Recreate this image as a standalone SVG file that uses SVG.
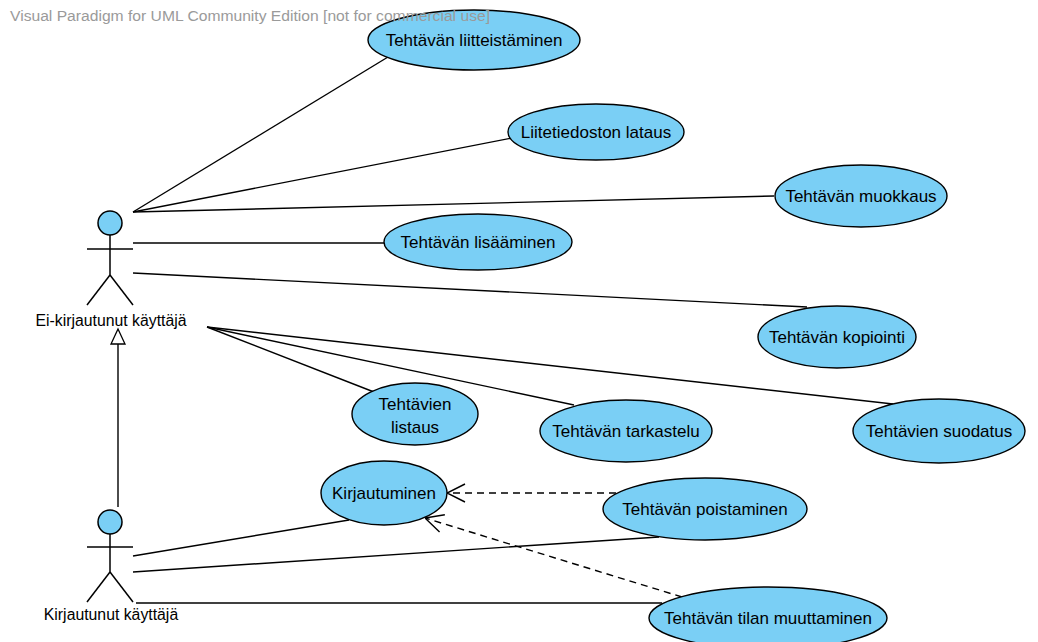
<svg xmlns="http://www.w3.org/2000/svg" width="1038" height="642" viewBox="0 0 1038 642">
  <style>
    .uc { fill: #7acff5; stroke: #000; stroke-width: 1.4; }
    .lbl { font-family: "Liberation Sans", Arial, sans-serif; font-size: 17px; fill: #000; text-anchor: middle; }
    .alb { font-family: "Liberation Sans", Arial, sans-serif; font-size: 15.8px; fill: #000; text-anchor: middle; }
    .act { fill: none; stroke: #000; stroke-width: 1.5; }
    .head { fill: #7acff5; stroke: #000; stroke-width: 1.5; }
    .assoc { stroke: #000; stroke-width: 1.4; fill: none; }
    .dep { stroke: #000; stroke-width: 1.4; fill: none; stroke-dasharray: 7 5; }
    .wm { font-family: "Liberation Sans", Arial, sans-serif; font-size: 15.5px; fill: #9a9a9a; }
  </style>
  <defs>
    <marker id="open" viewBox="0 0 20 20" refX="20" refY="10" markerWidth="20" markerHeight="20" markerUnits="userSpaceOnUse" orient="auto">
      <path d="M2 1 L20 10 L2 19" fill="none" stroke="#000" stroke-width="1.4"/>
    </marker>
  </defs>
  <rect width="1038" height="642" fill="#fff"/>

  <g id="connectors">
    <line class="assoc" x1="133" y1="212" x2="388" y2="57"/>
    <line class="assoc" x1="133" y1="212" x2="512" y2="138"/>
    <line class="assoc" x1="133" y1="212" x2="774" y2="196"/>
    <line class="assoc" x1="133" y1="243" x2="384" y2="243"/>
    <line class="assoc" x1="133" y1="273" x2="807" y2="307"/>
    <line class="assoc" x1="207" y1="327" x2="374" y2="392"/>
    <line class="assoc" x1="207" y1="327" x2="574" y2="405"/>
    <line class="assoc" x1="207" y1="327" x2="893" y2="404"/>
    <line class="assoc" x1="133" y1="556" x2="349" y2="520"/>
    <line class="assoc" x1="133" y1="572" x2="659" y2="537"/>
    <line class="assoc" x1="136" y1="603" x2="662" y2="603"/>
    <!-- generalization -->
    <line class="assoc" x1="118" y1="507" x2="118" y2="344"/>
    <polygon points="118,329 111,344 125,344" fill="#fff" stroke="#000" stroke-width="1.3"/>
    <!-- include dependencies -->
    <line class="dep" x1="616" y1="493" x2="447" y2="493" marker-end="url(#open)"/>
    <line class="dep" x1="682" y1="597" x2="425" y2="518" marker-end="url(#open)"/>
  </g>

  <g id="uc-liitteistaminen">
    <ellipse class="uc" cx="474" cy="40" rx="106" ry="30"/>
    <text class="lbl" x="474" y="46">Tehtävän liitteistäminen</text>
  </g>
  <g id="uc-lataus">
    <ellipse class="uc" cx="596" cy="132" rx="88" ry="28"/>
    <text class="lbl" x="596" y="138">Liitetiedoston lataus</text>
  </g>
  <g id="uc-muokkaus">
    <ellipse class="uc" cx="861" cy="196" rx="86" ry="31"/>
    <text class="lbl" x="861" y="202">Tehtävän muokkaus</text>
  </g>
  <g id="uc-lisaaminen">
    <ellipse class="uc" cx="478" cy="242" rx="94" ry="28"/>
    <text class="lbl" x="478" y="248">Tehtävän lisääminen</text>
  </g>
  <g id="uc-kopiointi">
    <ellipse class="uc" cx="837" cy="337" rx="79" ry="31"/>
    <text class="lbl" x="837" y="343">Tehtävän kopiointi</text>
  </g>
  <g id="uc-listaus">
    <ellipse class="uc" cx="415" cy="414" rx="63" ry="31"/>
    <text class="lbl" x="415" y="410">Tehtävien</text>
    <text class="lbl" x="415" y="433">listaus</text>
  </g>
  <g id="uc-tarkastelu">
    <ellipse class="uc" cx="626" cy="431" rx="86" ry="31"/>
    <text class="lbl" x="626" y="437">Tehtävän tarkastelu</text>
  </g>
  <g id="uc-suodatus">
    <ellipse class="uc" cx="939" cy="431" rx="86" ry="32"/>
    <text class="lbl" x="939" y="437">Tehtävien suodatus</text>
  </g>
  <g id="uc-kirjautuminen">
    <ellipse class="uc" cx="384" cy="493" rx="63" ry="32"/>
    <text class="lbl" x="384" y="499">Kirjautuminen</text>
  </g>
  <g id="uc-poistaminen">
    <ellipse class="uc" cx="705" cy="509" rx="102" ry="31"/>
    <text class="lbl" x="705" y="515">Tehtävän poistaminen</text>
  </g>
  <g id="uc-tilan-muuttaminen">
    <ellipse class="uc" cx="768" cy="618" rx="119" ry="31"/>
    <text class="lbl" x="768" y="624">Tehtävän tilan muuttaminen</text>
  </g>

  <g id="actor-ei-kirjautunut">
    <circle class="head" cx="110" cy="223" r="12"/>
    <line class="act" x1="110" y1="235" x2="110" y2="275"/>
    <line class="act" x1="87" y1="249" x2="133" y2="249"/>
    <line class="act" x1="110" y1="275" x2="87" y2="305"/>
    <line class="act" x1="110" y1="275" x2="133" y2="305"/>
    <text class="alb" x="111" y="326">Ei-kirjautunut käyttäjä</text>
  </g>
  <g id="actor-kirjautunut">
    <circle class="head" cx="110" cy="522" r="12"/>
    <line class="act" x1="110" y1="534" x2="110" y2="572"/>
    <line class="act" x1="87" y1="547" x2="133" y2="547"/>
    <line class="act" x1="110" y1="572" x2="87" y2="602"/>
    <line class="act" x1="110" y1="572" x2="133" y2="602"/>
    <text class="alb" x="111" y="620">Kirjautunut käyttäjä</text>
  </g>

  <text class="wm" x="10" y="21" textLength="480" lengthAdjust="spacingAndGlyphs">Visual Paradigm for UML Community Edition [not for commercial use]</text>
</svg>
